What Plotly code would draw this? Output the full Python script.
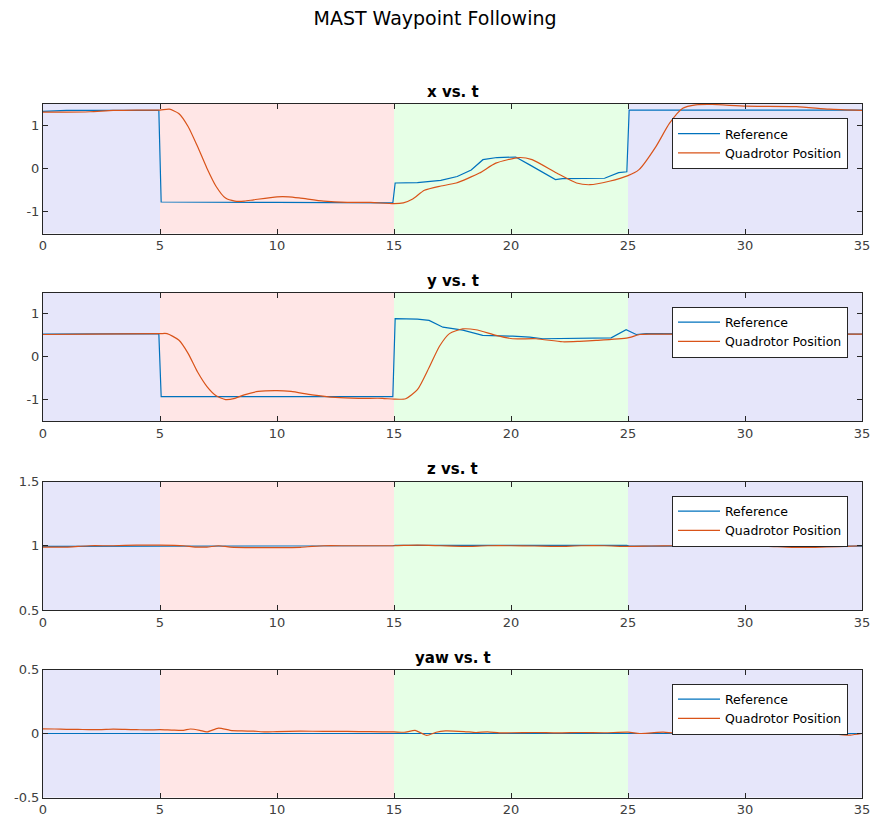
import plotly.graph_objects as go

# ---------------- data ----------------
t_x_ref = [0, 1, 4.95, 5.05, 10, 14.95, 15.05, 16, 17, 17.7, 18.3, 18.8, 19.4, 20.2, 20.8, 21.9, 22.2, 24.0, 24.6, 24.95, 25.05, 35]
x_ref = [1.33, 1.35, 1.35, -0.77, -0.78, -0.79, -0.33, -0.32, -0.27, -0.18, -0.03, 0.21, 0.26, 0.27, 0.09, -0.25, -0.23, -0.22, -0.09, -0.07, 1.36, 1.36]

t_x_quad = [0, 1, 2, 3, 4, 5, 5.4, 5.8, 6.2, 6.6, 7.0, 7.4, 7.8, 8.2, 8.6, 9, 10, 10.5, 11, 12, 13, 14, 15, 15.4, 15.8,
            16.3, 17.0, 17.66, 18.65, 19.35, 20.35, 20.9, 21.95, 22.8, 23.37, 24.2, 25.0, 25.47, 26.2, 26.77, 27.34,
            27.9, 28.6, 30.05, 32.2, 33.6, 35]
x_quad = [1.31, 1.31, 1.32, 1.35, 1.36, 1.36, 1.38, 1.28, 0.98, 0.52, 0.02, -0.41, -0.68, -0.75, -0.75, -0.72, -0.65,
          -0.65, -0.68, -0.75, -0.78, -0.78, -0.81, -0.79, -0.70, -0.50, -0.40, -0.33, -0.10, 0.13, 0.26, 0.21, -0.10,
          -0.33, -0.37, -0.29, -0.16, -0.02, 0.52, 1.05, 1.40, 1.48, 1.49, 1.45, 1.44, 1.38, 1.35]

t_y_ref = [0, 4.95, 5.05, 14.95, 15.05, 16.0, 16.5, 17.09, 17.94, 18.79, 20.07, 20.8, 21.36, 22.93, 24.28, 24.92, 25.35, 25.78, 35]
y_ref = [0.53, 0.54, -0.93, -0.93, 0.89, 0.88, 0.85, 0.69, 0.62, 0.50, 0.48, 0.46, 0.42, 0.44, 0.44, 0.63, 0.52, 0.54, 0.53]

t_y_quad = [0, 2, 5, 5.3, 5.8, 6.2, 6.6, 7.0, 7.4, 7.8, 8.2, 8.6, 9.2, 10, 10.6, 11.5, 12.5, 13.5, 14.5, 15, 15.5, 16,
            16.5, 16.95, 17.37, 17.94, 18.5, 19.36, 20.07, 21.07, 22.2, 22.93, 23.64, 24.99, 25.5, 26, 35]
y_quad = [0.52, 0.53, 0.54, 0.54, 0.39, 0.08, -0.35, -0.69, -0.91, -1.0, -0.97, -0.89, -0.81, -0.79, -0.81, -0.89,
          -0.95, -0.97, -0.97, -0.99, -0.98, -0.77, -0.25, 0.25, 0.54, 0.65, 0.63, 0.50, 0.42, 0.42, 0.35, 0.36, 0.38,
          0.44, 0.52, 0.53, 0.53]

t_z_ref = [0, 4.95, 5.05, 14.95, 15.05, 24.95, 25.05, 35]
z_ref = [0.995, 0.995, 1.0, 1.0, 1.003, 1.003, 0.997, 0.997]

t_z_quad = [0, 1, 1.5, 2, 3, 4, 5, 6, 6.5, 7, 7.5, 8, 9, 10, 11, 11.5, 12, 13, 14, 15, 16, 17, 18, 19, 20, 21, 22, 23,
            24, 25, 26, 27, 28, 29, 30, 31, 32, 33, 34, 35]
z_quad = [0.99, 0.99, 0.995, 1.0, 1.0, 1.005, 1.005, 1.0, 0.99, 0.99, 1.0, 0.99, 0.985, 0.985, 0.988, 0.995, 1.0, 1.0,
          1.0, 1.0, 1.005, 1.0, 0.995, 1.0, 1.0, 0.998, 0.995, 1.0, 1.0, 0.995, 0.998, 1.0, 1.003, 1.0, 1.0, 0.995,
          0.988, 0.988, 0.993, 1.0]

t_yaw_ref = [0, 35]
yaw_ref = [0.0, 0.0]

t_yaw_quad = [0, 0.5, 1, 1.5, 2, 2.5, 3, 3.5, 4, 4.5, 5, 5.5, 6, 6.3, 6.7, 7, 7.5, 8, 8.5, 9, 9.5, 10, 11, 12, 13, 14,
              15, 15.5, 15.9, 16.4, 16.8, 17.2, 18, 18.5, 19, 19.5, 20, 21, 22, 23, 24, 25, 25.5, 26, 26.5, 27, 27.5,
              28, 29, 30, 31, 32, 33, 33.5, 34, 34.5, 35]
yaw_quad = [0.036, 0.035, 0.033, 0.032, 0.030, 0.031, 0.034, 0.032, 0.030, 0.028, 0.030, 0.027, 0.025, 0.035, 0.025,
            0.012, 0.042, 0.025, 0.020, 0.018, 0.012, 0.015, 0.018, 0.017, 0.016, 0.014, 0.012, 0.010, 0.025, -0.015,
            0.010, 0.020, 0.015, 0.008, 0.012, 0.005, 0.006, 0.008, 0.005, 0.008, 0.006, 0.010, 0.0, 0.005, 0.010,
            0.004, 0.012, 0.008, 0.010, 0.005, 0.008, 0.006, 0.008, 0.010, -0.008, -0.012, 0.0]

subplot_titles = ["x vs. t", "y vs. t", "z vs. t", "yaw vs. t"]
y_ranges = [[-1.5, 1.5], [-1.5, 1.5], [0.5, 1.5], [-0.5, 0.5]]
y_ticks = [[-1, 0, 1], [-1, 0, 1], [0.5, 1, 1.5], [-0.5, 0, 0.5]]
x_ticks = [0, 5, 10, 15, 20, 25, 30, 35]

region_starts = [0, 5, 15, 25]
region_ends = [5, 15, 25, 35]
region_colors = ["#E6E6FA", "#FFE6E6", "#E6FFE6", "#E6E6FA"]

series = [
    (t_x_ref, x_ref, t_x_quad, x_quad),
    (t_y_ref, y_ref, t_y_quad, y_quad),
    (t_z_ref, z_ref, t_z_quad, z_quad),
    (t_yaw_ref, yaw_ref, t_yaw_quad, yaw_quad),
]

# ---------------- layout geometry (window pixels) ----------------
W, H = 872, 820
plot_left, plot_right = 43, 862
plot_tops = [104, 292.5, 481.5, 669.5]
plot_bottoms = [233.5, 421, 610, 797.5]
legend_right = 848

REF_COLOR = "#0072BD"
QUAD_COLOR = "#D95319"
FONT = "DejaVu Sans"

fig = go.Figure()
layout = dict(
    width=W, height=H,
    margin=dict(l=0, r=0, t=0, b=0),
    paper_bgcolor="white",
    plot_bgcolor="white",
    font=dict(family=FONT, size=12, color="#262626"),
    title=dict(text="MAST Waypoint Following", x=435 / W, xanchor="center",
               y=1 - 18 / H, yanchor="middle",
               font=dict(family=FONT, size=19, color="#000000")),
    showlegend=True,
)
shapes = []
annotations = []

for i in range(4):
    n = "" if i == 0 else str(i + 1)
    xa, ya = "x" + n, "y" + n
    leg = "legend" + n
    tr, vr, tq, vq = series[i]
    fig.add_trace(go.Scatter(x=tr, y=vr, mode="lines", name="Reference", xaxis=xa, yaxis=ya, legend=leg,
                             line=dict(color=REF_COLOR, width=1.2)))
    fig.add_trace(go.Scatter(x=tq, y=vq, mode="lines", name="Quadrotor Position", xaxis=xa, yaxis=ya, legend=leg,
                             line=dict(color=QUAD_COLOR, width=1.2, shape="spline", smoothing=0.6)))

    ydom = [1 - plot_bottoms[i] / H, 1 - plot_tops[i] / H]
    axis_common = dict(showline=True, linecolor="#262626", linewidth=1, mirror="ticks", ticks="inside",
                       ticklen=5, tickcolor="#262626", showgrid=False, zeroline=False, automargin=False,
                       tickfont=dict(family=FONT, size=13, color="#404040"))
    layout["xaxis" + n] = dict(domain=[plot_left / W, plot_right / W], range=[0, 35], anchor=ya,
                               tickvals=x_ticks, ticktext=[str(v) for v in x_ticks], **axis_common)
    layout["yaxis" + n] = dict(domain=ydom, range=y_ranges[i], anchor=xa,
                               tickvals=y_ticks[i], ticktext=[("%g" % v) for v in y_ticks[i]], **axis_common)
    layout[leg] = dict(x=legend_right / W, xanchor="right", y=1 - (plot_tops[i] + 14) / H, yanchor="top",
                       bgcolor="white", bordercolor="#262626", borderwidth=1,
                       font=dict(family=FONT, size=12.5, color="#000000"),
                       tracegroupgap=0, itemwidth=42)

    for s, e, c in zip(region_starts, region_ends, region_colors):
        shapes.append(dict(type="rect", xref=xa, yref=ya + " domain", x0=s, x1=e, y0=0, y1=1,
                           fillcolor=c, line=dict(width=0), layer="below"))

    annotations.append(dict(text="<b>" + subplot_titles[i] + "</b>", xref="paper", yref="paper",
                            x=(plot_left + plot_right) / 2 / W, y=1 - (plot_tops[i] - 12) / H,
                            xanchor="center", yanchor="middle", showarrow=False,
                            font=dict(family=FONT, size=15, color="#000000")))

layout["shapes"] = shapes
layout["annotations"] = annotations
fig.update_layout(**layout)

fig.write_html(
    "out.html",
    config={"displayModeBar": False},
    post_script="document.body.style.margin='0';document.body.style.overflow='hidden';",
)
